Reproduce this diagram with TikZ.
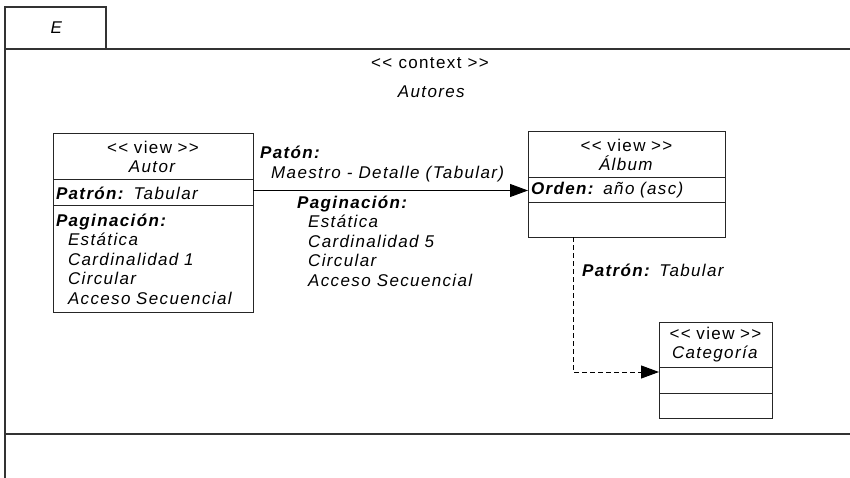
\documentclass[tikz,border=0pt]{standalone}
\usepackage{fontspec}
\setmainfont{Liberation Sans}[LetterSpace=8,Ligatures=TeXOff]
\usetikzlibrary{positioning,arrows.meta}

\newcommand{\boldit}[1]{\textbf{\textit{#1}}}

\tikzset{
  frame/.style={line width=1.2pt,draw=black!80},
  comp/.style={draw=black!85,line width=1pt,inner xsep=3pt,inner ysep=0pt,outer sep=0pt,anchor=north},
  lbl/.style={inner sep=0pt,anchor=west,align=left},
  assoc/.style={line width=1pt,draw=black,-{Triangle[length=18pt,width=13pt]}},
  depend/.style={assoc,dash pattern=on 5pt off 3pt},
}

\begin{document}
\begin{tikzpicture}[x=1pt,y=-1pt,font=\fontsize{17}{19.5}\selectfont]
\useasboundingbox (0,0) rectangle (850,478);
% package frame
\draw[frame] (5,478) -- (5,7) -- (106,7) -- (106,49);
\draw[frame] (5,49) -- (850,49);
\draw[frame] (5,434) -- (850,434);
\node (pkg) at (57,28) {\textit{E}};
\node (ctx) at (430,63) {<< context >>};
\node (ctxname) at (432,92) {\textit{Autores}};

% Autor
\node[comp,text width=194pt,minimum height=46pt,align=center] (autor) at (153,134) {<< view >>\\\textit{Autor}};
\node[comp,text width=194pt,minimum height=26pt,align=left,below=0pt of autor] (autorpat) {\boldit{Patrón:} \textit{Tabular}};
\node[comp,text width=194pt,minimum height=106pt,align=left,below=0pt of autorpat] (autorpag) {\boldit{Paginación:}\\
  \hspace*{12pt}\textit{Estática}\\
  \hspace*{12pt}\textit{Cardinalidad 1}\\
  \hspace*{12pt}\textit{Circular}\\
  \hspace*{12pt}\textit{Acceso Secuencial}};

% Album
\node[comp,text width=191pt,minimum height=46pt,align=center] (album) at (626.5,132) {<< view >>\\\textit{Álbum}};
\node[comp,text width=191pt,minimum height=25pt,align=left,below=0pt of album] (albumord) {\boldit{Orden:} \textit{año (asc)}};
\node[comp,text width=191pt,minimum height=34pt,below=0pt of albumord] (albumlow) {};

% Categoria
\node[comp,text width=107pt,minimum height=45pt,align=center] (categ) at (715.5,322) {<< view >>\\\textit{Categoría}};
\node[comp,text width=107pt,minimum height=26pt,below=0pt of categ] (categrow) {};
\node[comp,text width=107pt,minimum height=25pt,below=0pt of categrow] (categlow) {};

% connectors
\draw[assoc] (autorpat.east |- albumord.west) -- (albumord.west);
\node[lbl] (maestro) at (260,164) {\boldit{Patón:}\\\hspace*{11pt}\textit{Maestro - Detalle (Tabular)}};
\node[lbl] (pagina) at (297,241) {\boldit{Paginación:}\\
  \hspace*{11pt}\textit{Estática}\\
  \hspace*{11pt}\textit{Cardinalidad 5}\\
  \hspace*{11pt}\textit{Circular}\\
  \hspace*{11pt}\textit{Acceso Secuencial}};

\draw[depend] ([xshift=45pt]albumlow.south west) |- ([yshift=-5pt]categrow.north west);
\node[lbl] (tabular) at (582,270) {\boldit{Patrón:} \textit{Tabular}};
\end{tikzpicture}
\end{document}
